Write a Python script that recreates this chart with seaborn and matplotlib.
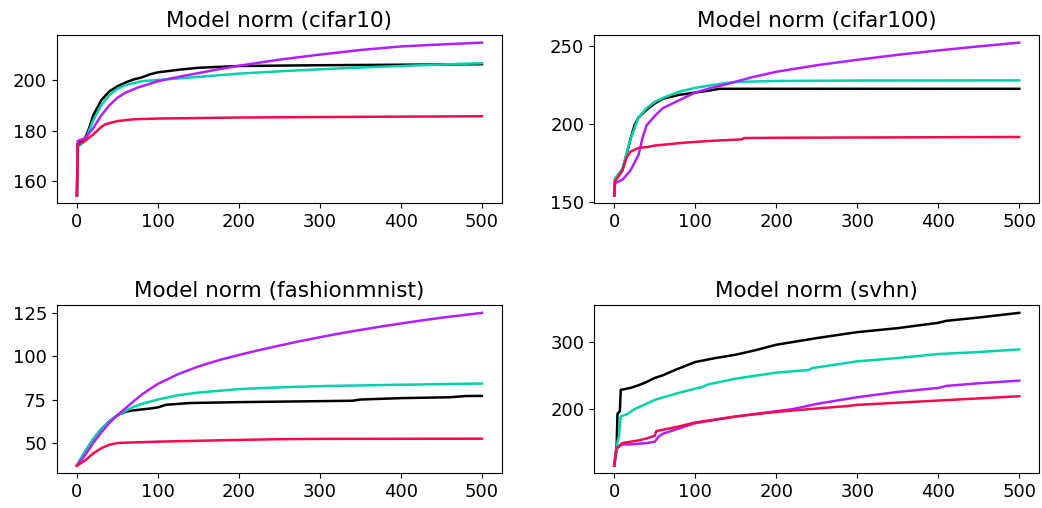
import matplotlib
matplotlib.use("Agg")
import matplotlib.pyplot as plt
import seaborn as sns
import pandas as pd

# ---- data ----
methods = ["black", "teal", "purple", "red"]
colors = {"black": "#000000", "teal": "#00d2ad", "purple": "#b41eff", "red": "#f50a4b"}
titles = ["Model norm (cifar10)", "Model norm (cifar100)",
          "Model norm (fashionmnist)", "Model norm (svhn)"]

# cifar10
c10_black_x = [0, 1, 10, 15, 20, 30, 40, 50, 60, 70, 80, 90, 100, 125, 150, 200, 300, 400, 500]
c10_black_y = [154.5, 175, 177, 181, 186, 192, 195.5, 197.5, 199, 200.2, 201, 202.2, 203, 204, 204.8, 205.5, 205.8, 206, 206.2]
c10_teal_x = [0, 1, 10, 20, 30, 40, 50, 60, 80, 100, 150, 200, 250, 300, 350, 400, 450, 500]
c10_teal_y = [154.5, 173.5, 176, 184, 190, 194, 196.5, 198, 199.5, 200, 201.2, 202.5, 203.4, 204.2, 204.9, 205.5, 206.1, 206.6]
c10_purple_x = [0, 1, 10, 20, 30, 40, 50, 60, 75, 100, 125, 150, 175, 200, 250, 300, 350, 400, 450, 500]
c10_purple_y = [154.5, 176, 177, 181, 186, 190, 193, 195, 197, 199.5, 201.2, 202.7, 204.2, 205.6, 208, 210, 211.8, 213.2, 214, 214.7]
c10_red_x = [0, 1, 10, 20, 30, 35, 40, 50, 70, 100, 200, 300, 500]
c10_red_y = [154.5, 174.5, 176, 178.5, 181.5, 182.5, 183, 183.8, 184.5, 184.8, 185.2, 185.4, 185.7]

# cifar100
c100_black_x = [0, 1, 10, 20, 25, 30, 40, 50, 60, 80, 100, 120, 130, 500]
c100_black_y = [154, 164, 170, 190, 199, 204, 209, 213, 216, 218.5, 220, 221.5, 222.4, 222.4]
c100_teal_x = [0, 1, 10, 20, 30, 40, 50, 60, 80, 100, 130, 150, 200, 300, 500]
c100_teal_y = [154, 165, 171, 190, 204, 210, 214, 216.5, 220.5, 223, 225.5, 226.8, 227.4, 227.7, 227.8]
c100_purple_x = [0, 1, 10, 20, 30, 35, 40, 50, 60, 80, 100, 120, 140, 170, 200, 250, 300, 350, 400, 450, 500]
c100_purple_y = [154, 162, 164, 170, 180, 191, 199, 205, 210, 215, 220, 223, 225.5, 229.8, 233.3, 237.5, 241, 244.2, 247, 249.6, 252]
c100_red_x = [0, 1, 10, 15, 20, 30, 40, 50, 70, 90, 120, 158, 160, 200, 500]
c100_red_y = [154, 163, 170, 178, 182, 184.5, 185, 186, 187, 188, 189, 190, 190.8, 191, 191.5]

# fashionmnist
fm_black_x = [0, 10, 20, 30, 40, 50, 60, 70, 90, 100, 110, 140, 200, 340, 350, 400, 460, 480, 500]
fm_black_y = [37, 45, 52, 58, 62.5, 66, 68, 68.8, 69.8, 70.5, 72, 73, 73.5, 74.3, 75, 75.8, 76.3, 77, 77.1]
fm_teal_x = [0, 10, 20, 30, 40, 50, 60, 70, 80, 100, 125, 150, 200, 250, 300, 400, 500]
fm_teal_y = [37, 45, 52, 58, 62.5, 66, 68.5, 70.8, 72.5, 75, 77.5, 79, 81, 82, 82.7, 83.5, 84.2]
fm_purple_x = [0, 10, 20, 30, 40, 50, 60, 70, 80, 90, 100, 125, 150, 175, 200, 225, 250, 275, 300, 325, 350, 375, 400, 425, 450, 475, 500]
fm_purple_y = [37, 43, 50, 56, 61.5, 66, 70, 74, 77.8, 81, 84, 89.6, 94, 97.6, 100.6, 103.4, 106, 108.5, 110.8, 113, 115, 116.9, 118.7, 120.4, 122, 123.4, 124.8]
fm_red_x = [0, 10, 20, 30, 40, 50, 60, 100, 140, 200, 250, 300, 500]
fm_red_y = [37, 40, 44, 47, 49, 50, 50.2, 50.8, 51.2, 51.8, 52.2, 52.4, 52.5]

# svhn
sv_black_x = [0, 3, 4, 7, 8, 20, 30, 40, 50, 60, 75, 100, 125, 150, 175, 200, 250, 300, 350, 400, 410, 450, 500]
sv_black_y = [114, 145, 192, 196, 228, 231, 235, 240, 246, 250, 258, 270, 276, 281, 288, 296, 306, 315, 321, 329, 332, 337, 344]
sv_teal_x = [0, 4, 6, 8, 15, 25, 50, 75, 100, 110, 115, 150, 200, 240, 245, 300, 350, 400, 450, 500]
sv_teal_y = [114, 150, 160, 188, 191, 199, 213, 222, 230, 233, 236, 245, 254, 258, 261, 271, 276, 282, 285, 289]
sv_purple_x = [0, 3, 10, 20, 40, 50, 55, 60, 80, 100, 150, 200, 220, 250, 300, 350, 400, 410, 450, 500]
sv_purple_y = [114, 140, 146, 146, 148, 150, 158, 162, 170, 178, 188, 196, 199, 207, 217, 225, 231, 234, 238, 242]
sv_red_x = [0, 3, 10, 20, 30, 40, 50, 52, 60, 80, 100, 150, 200, 250, 290, 300, 400, 500]
sv_red_y = [114, 140, 148, 150, 152, 155, 159, 166, 168, 173, 179, 188, 195, 200, 204, 205.5, 212, 218.5]

panels = [
    [(c10_black_x, c10_black_y), (c10_teal_x, c10_teal_y), (c10_purple_x, c10_purple_y), (c10_red_x, c10_red_y)],
    [(c100_black_x, c100_black_y), (c100_teal_x, c100_teal_y), (c100_purple_x, c100_purple_y), (c100_red_x, c100_red_y)],
    [(fm_black_x, fm_black_y), (fm_teal_x, fm_teal_y), (fm_purple_x, fm_purple_y), (fm_red_x, fm_red_y)],
    [(sv_black_x, sv_black_y), (sv_teal_x, sv_teal_y), (sv_purple_x, sv_purple_y), (sv_red_x, sv_red_y)],
]

fig, axes = plt.subplots(2, 2, figsize=(10.42, 5.08), dpi=100)
fig.subplots_adjust(left=0.0544, right=0.9976, top=0.9311, bottom=0.0683,
                    wspace=0.2060, hspace=0.6076)

for ax, title, series in zip(axes.flat, titles, panels):
    rows = []
    for m, (xs, ys) in zip(methods, series):
        for xv, yv in zip(xs, ys):
            rows.append({"epoch": xv, "norm": yv, "method": m})
    df = pd.DataFrame(rows)
    sns.lineplot(data=df, x="epoch", y="norm", hue="method", hue_order=methods,
                 palette=colors, legend=False, ax=ax, linewidth=1.8)
    ax.set_title(title, fontsize=15.5)
    ax.set_xlabel("")
    ax.set_ylabel("")
    ax.set_xticks([0, 100, 200, 300, 400, 500])
    ax.tick_params(labelsize=13)

axes[0, 0].set_yticks([160, 180, 200])
axes[0, 1].set_yticks([150, 200, 250])
axes[1, 0].set_yticks([50, 75, 100, 125])
axes[1, 1].set_yticks([200, 300])

fig.savefig("out.png", dpi=100)
